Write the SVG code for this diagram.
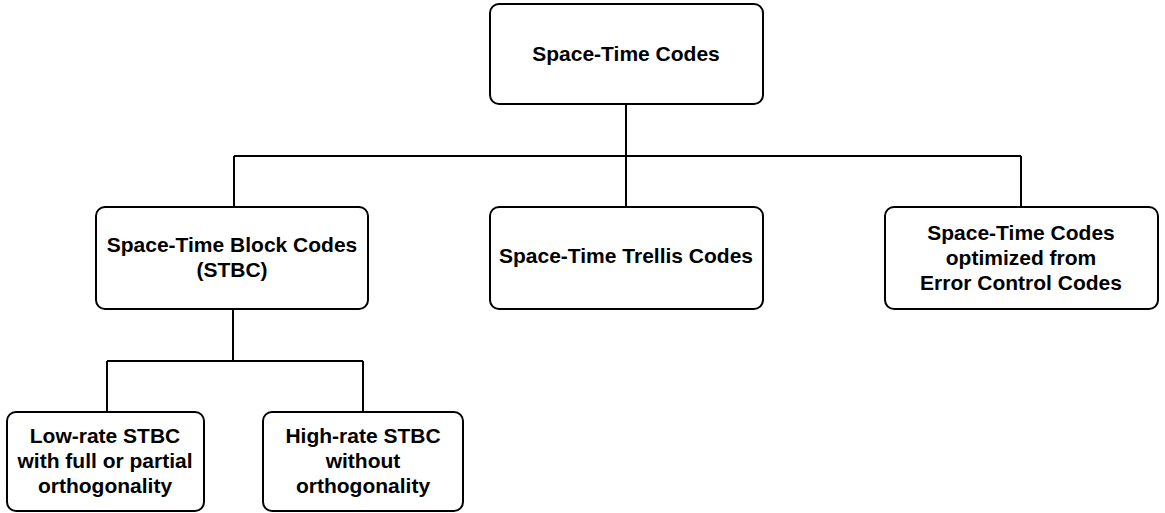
<svg xmlns="http://www.w3.org/2000/svg" width="1165" height="513" viewBox="0 0 1165 513">
<style>
.box{fill:#fff;stroke:#000;stroke-width:2}
.t{font-family:"Liberation Sans",Arial,sans-serif;font-weight:bold;font-size:21px;text-anchor:middle;fill:#000}
.c{fill:none;stroke:#000;stroke-width:2}
</style>
<rect width="1165" height="513" fill="#fff"/>
<g id="connectors">
<path class="c" d="M626 105V156M234 156H1021M234 156V207M626 156V207M1021 156V207"/>
<path class="c" d="M233 309V361M107 361H363M107 361V412M363 361V412"/>
</g>
<g id="root"><rect class="box" x="490" y="4" width="273" height="100" rx="9"/><text class="t" x="626" y="61">Space-Time Codes</text></g>
<g id="stbc"><rect class="box" x="96" y="207" width="272" height="102" rx="9"/><text class="t" x="232" y="252">Space-Time Block Codes</text><text class="t" x="232" y="277">(STBC)</text></g>
<g id="stt"><rect class="box" x="490" y="207" width="273" height="102" rx="9"/><text class="t" x="626" y="263">Space-Time Trellis Codes</text></g>
<g id="ecc"><rect class="box" x="885" y="207" width="273" height="102" rx="9"/><text class="t" x="1021" y="240">Space-Time Codes</text><text class="t" x="1021" y="265">optimized from</text><text class="t" x="1021" y="290">Error Control Codes</text></g>
<g id="low"><rect class="box" x="7" y="412" width="197" height="99" rx="9"/><text class="t" x="105" y="443">Low-rate STBC</text><text class="t" x="105" y="468">with full or partial</text><text class="t" x="105" y="493">orthogonality</text></g>
<g id="high"><rect class="box" x="263" y="412" width="200" height="99" rx="9"/><text class="t" x="363" y="443">High-rate STBC</text><text class="t" x="363" y="468">without</text><text class="t" x="363" y="493">orthogonality</text></g>
</svg>
